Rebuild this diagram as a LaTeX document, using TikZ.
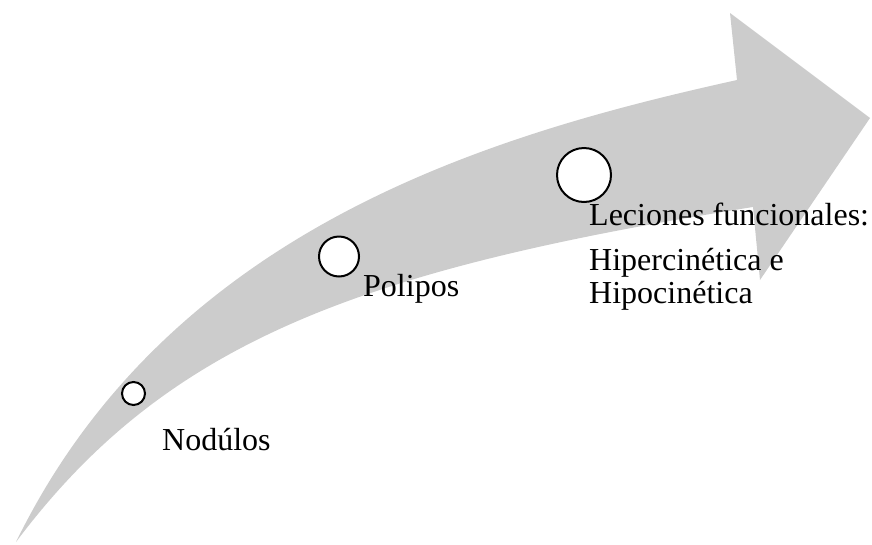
\documentclass[tikz,border=0pt]{standalone}
\usepackage{fontspec}
\setmainfont{Liberation Serif}
\begin{document}
\begin{tikzpicture}[x=1pt,y=-1pt,
  stage/.style={circle,draw,line width=2pt,fill=white,inner sep=0pt},
  txt/.style={anchor=base west,inner sep=0pt,font=\fontsize{32}{33}\selectfont}]
\useasboundingbox (0,0) rectangle (872,544);
% curved grey arrow
\fill[gray!40] (16,542) .. controls (170,227) and (493,134) .. (737,80)
  -- (730,13) -- (870,118) -- (760,280) -- (753,207)
  .. controls (358,270) and (166,342) .. (16,542) -- cycle;
% stages
\node[stage,minimum size=23pt] (nod) at (133.5,393.5) {};
\node[stage,minimum size=40pt] (pol) at (339,256.5) {};
\node[stage,minimum size=54pt] (lec) at (584,175) {};
\node[txt] (tnod) at (162,450) {Nodúlos};
\node[txt] (tpol) at (363,296) {Polipos};
\node[txt] (tlec) at (589,225) {Leciones funcionales:};
\node[txt] (thip) at (589,270) {Hipercinética e};
\node[txt] (thipo) at (589,303) {Hipocinética};
\end{tikzpicture}
\end{document}
